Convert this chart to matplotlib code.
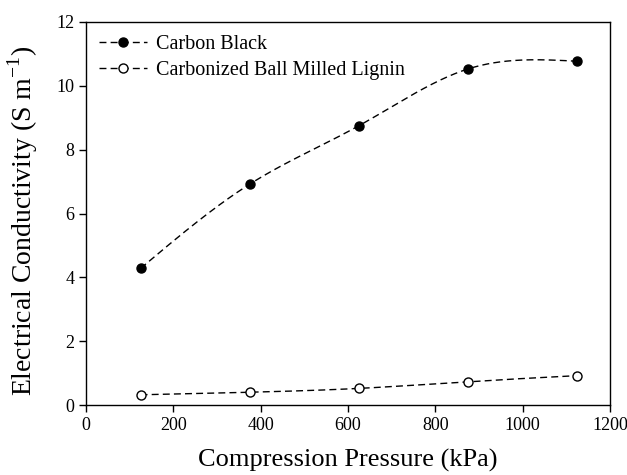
import numpy as np
import matplotlib
matplotlib.use("Agg")
import matplotlib.pyplot as plt

plt.rcParams['font.family'] = ['Liberation Serif', 'DejaVu Serif']
plt.rcParams['mathtext.fontset'] = 'custom'
plt.rcParams['mathtext.rm'] = 'Liberation Serif'

pressure = [125, 375, 625, 875, 1125]
carbon_black = [4.28, 6.92, 8.75, 10.53, 10.77]
lignin = [0.32, 0.40, 0.52, 0.73, 0.92]
series_names = ["Carbon Black", "Carbonized Ball Milled Lignin"]
x_ticks = [0, 200, 400, 600, 800, 1000, 1200]
y_ticks = [0, 2, 4, 6, 8, 10, 12]


def natural_spline(x, y, n=200):
    x = np.asarray(x, float); y = np.asarray(y, float)
    k = len(x); h = np.diff(x)
    A = np.zeros((k, k)); b = np.zeros(k)
    A[0, 0] = A[-1, -1] = 1
    for i in range(1, k - 1):
        A[i, i - 1] = h[i - 1]; A[i, i] = 2 * (h[i - 1] + h[i]); A[i, i + 1] = h[i]
        b[i] = 3 * ((y[i + 1] - y[i]) / h[i] - (y[i] - y[i - 1]) / h[i - 1])
    c = np.linalg.solve(A, b)
    xs = np.linspace(x[0], x[-1], n); ys = np.empty_like(xs)
    for j, xv in enumerate(xs):
        i = min(np.searchsorted(x, xv, side='right') - 1, k - 2)
        d = xv - x[i]
        bi = (y[i + 1] - y[i]) / h[i] - h[i] * (2 * c[i] + c[i + 1]) / 3
        di = (c[i + 1] - c[i]) / (3 * h[i])
        ys[j] = y[i] + bi * d + c[i] * d ** 2 + di * d ** 3
    return xs, ys


fig = plt.figure(figsize=(6.27, 4.75), dpi=100)
ax = fig.add_axes([86 / 627, 1 - 405 / 475, (610 - 86) / 627, (405 - 22) / 475])

dash = (0, (5, 3))
for yv, face, name in [(carbon_black, 'black', series_names[0]), (lignin, 'white', series_names[1])]:
    xs, ys = natural_spline(pressure, yv)
    ax.plot(xs, ys, color='black', lw=1.0, linestyle=dash)
    ax.plot(pressure, yv, linestyle='none', marker='o', ms=6.5, mfc=face, mec='black', mew=1.0)

from matplotlib.lines import Line2D
handles = [Line2D([], [], color='black', lw=1.0, linestyle=dash, marker='o', ms=6.5, mfc='black', mec='black'),
           Line2D([], [], color='black', lw=1.0, linestyle=dash, marker='o', ms=6.5, mfc='white', mec='black')]
ax.legend(handles, series_names, loc='upper left', frameon=False, fontsize=14.5,
          handlelength=2.4, borderaxespad=0.25, labelspacing=0.35, handletextpad=0.45)

ax.set_xlim(0, 1200)
ax.set_ylim(0, 12)
ax.set_xticks(x_ticks)
ax.set_yticks(y_ticks)
ax.tick_params(direction='out', length=5, width=1, labelsize=13)
for s in ax.spines.values():
    s.set_linewidth(1.0)
ax.set_xlabel('Compression Pressure (kPa)', fontsize=19, labelpad=11)
ax.set_ylabel(r'Electrical Conductivity (S m$^{\mathregular{-1}}$)', fontsize=20)
ax.yaxis.set_label_coords(-0.088, 0.48)

fig.savefig('out.png', dpi=100)
